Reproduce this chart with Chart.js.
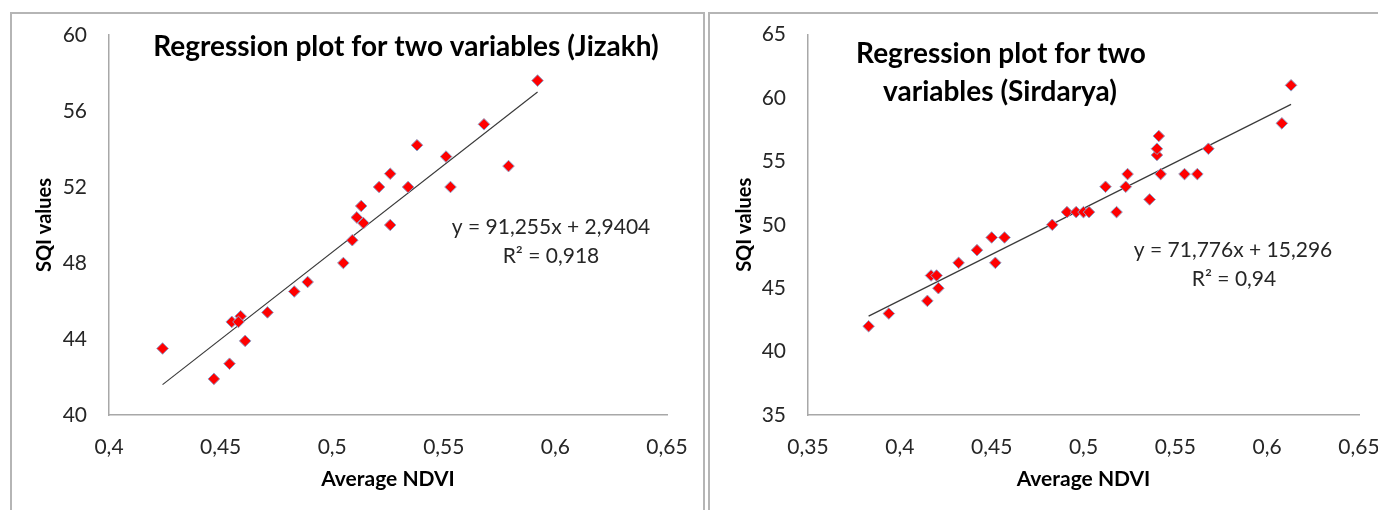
<!DOCTYPE html>
<html>
<head>
<meta charset="utf-8">
<script src="https://cdn.jsdelivr.net/npm/chart.js@4.4.1/dist/chart.umd.min.js"></script>
<style>
  body { margin: 0; background: #fff; width: 1378px; height: 510px; overflow: hidden; position: relative; }
  .panel { position: absolute; border: 2px solid #b5b5b5; border-bottom: none; box-sizing: border-box; }
  #p1 { left: 10px; top: 12px; width: 695px; height: 510px; }
  #p2 { left: 708px; top: 12px; width: 680px; height: 510px; }
  canvas { position: absolute; top: 0; }
  #c1 { left: 0; }
  #c2 { left: 706px; }
</style>
</head>
<body>
<div class="panel" id="p1"></div>
<div class="panel" id="p2"></div>
<canvas id="c1" width="760" height="510"></canvas>
<canvas id="c2" width="740" height="510"></canvas>
<script>
// Jizakh
const jizakhNdvi = [0.424, 0.447, 0.454, 0.455, 0.459, 0.458, 0.461, 0.471, 0.483, 0.489,
  0.505, 0.509, 0.511, 0.513, 0.514, 0.526, 0.521, 0.526, 0.534, 0.538,
  0.551, 0.553, 0.568, 0.579, 0.592];
const jizakhSqi = [43.5, 41.9, 42.7, 44.9, 45.2, 44.9, 43.9, 45.4, 46.5, 47.0,
  48.0, 49.2, 50.4, 51.0, 50.1, 50.0, 52.0, 52.7, 52.0, 54.2,
  53.6, 52.0, 55.3, 53.1, 57.6];
const jizakhTrendX = [0.424, 0.592];
const jizakhTrendY = [41.6, 57.0];

// Sirdarya
const sirdaryaNdvi = [0.383, 0.394, 0.415, 0.417, 0.420, 0.421, 0.432, 0.442, 0.450, 0.452,
  0.457, 0.483, 0.491, 0.496, 0.500, 0.503, 0.512, 0.518, 0.523, 0.524,
  0.536, 0.540, 0.540, 0.541, 0.542, 0.555, 0.562, 0.568, 0.608, 0.613];
const sirdaryaSqi = [42, 43, 44, 46, 46, 45, 47, 48, 49, 47,
  49, 50, 51, 51, 51, 51, 53, 51, 53, 54,
  52, 55.5, 56, 57, 54, 54, 54, 56, 58, 61];
const sirdaryaTrendX = [0.383, 0.613];
const sirdaryaTrendY = [42.8, 59.5];

const jizakhXTicks = [0.4, 0.65, 0.05];
const jizakhYTicks = [40, 60, 4];
const sirdaryaXTicks = [0.35, 0.65, 0.05];
const sirdaryaYTicks = [35, 65, 5];

Chart.defaults.font.family = 'Lato, "Open Sans", sans-serif';

const fmt = v => String(Math.round(v * 100) / 100).replace('.', ',');

// free text boxes (titles, equations), offsets from the plot area's top-left
const textBoxes = {
  id: 'textBoxes',
  afterDraw(chart, args, opts) {
    const { ctx, chartArea } = chart;
    ctx.save();
    ctx.textAlign = 'center';
    ctx.textBaseline = 'middle';
    opts.items.forEach(t => {
      ctx.font = t.font;
      ctx.fillStyle = t.color;
      ctx.fillText(t.text, chartArea.left + t.dx, chartArea.top + t.dy);
    });
    ctx.restore();
  }
};

function makeChart(id, xs, ys, tx, ty, xt, yt, yAxisWidth, padRight, padTop, yTitlePad, texts) {
  const axisColor = '#a8a8a8';
  const tickColor = '#262626';
  return new Chart(document.getElementById(id), {
    type: 'scatter',
    data: {
      datasets: [
        {
          data: xs.map((x, i) => ({ x, y: ys[i] })),
          backgroundColor: '#ff0000',
          borderColor: '#8ea0c8',
          borderWidth: 1,
          pointStyle: 'rectRot',
          pointRadius: 5.8,
          order: 1
        },
        {
          type: 'line',
          data: tx.map((x, i) => ({ x, y: ty[i] })),
          borderColor: '#3a3a3a',
          borderWidth: 1.2,
          pointRadius: 0,
          fill: false,
          order: 2
        }
      ]
    },
    options: {
      responsive: false,
      animation: false,
      events: [],
      layout: { autoPadding: false, padding: { left: 0, top: padTop, right: padRight, bottom: 0 } },
      plugins: {
        legend: { display: false },
        tooltip: { enabled: false },
        textBoxes: { items: texts }
      },
      scales: {
        x: {
          type: 'linear',
          min: xt[0], max: xt[1],
          ticks: { stepSize: xt[2], padding: 20, color: tickColor, font: { size: 21 }, callback: fmt },
          grid: { display: false, drawTicks: false },
          border: { display: true, color: axisColor, width: 1.5 },
          title: { display: true, text: 'Average NDVI', color: '#000', font: { size: 21, weight: 'bold' }, padding: { top: 0, bottom: 18 } },
          afterFit: s => { s.height = 95; }
        },
        y: {
          min: yt[0], max: yt[1],
          ticks: { stepSize: yt[2], padding: 22, color: tickColor, font: { size: 21 }, callback: fmt },
          grid: { display: false, drawTicks: false },
          border: { display: true, color: axisColor, width: 1.5 },
          title: { display: true, text: 'SQI values', color: '#000', font: { size: 20, weight: 'bold' }, padding: { top: yTitlePad, bottom: 0 } },
          afterFit: s => { s.width = yAxisWidth; }
        }
      }
    },
    plugins: [textBoxes]
  });
}

const titleFont = 'bold 28px Lato';
const eqFont = '21px Lato';

// plot area: left 109..667, right 808..1359 (page px)
makeChart('c1', jizakhNdvi, jizakhSqi, jizakhTrendX, jizakhTrendY, jizakhXTicks, jizakhYTicks,
  109, 760 - 667, 35, 33, [
    { text: 'Regression plot for two variables (Jizakh)', dx: 297, dy: 12, font: titleFont, color: '#000' },
    { text: 'y = 91,255x + 2,9404', dx: 442, dy: 192, font: eqFont, color: '#262626' },
    { text: 'R² = 0,918', dx: 442, dy: 221, font: eqFont, color: '#262626' }
  ]);

makeChart('c2', sirdaryaNdvi, sirdaryaSqi, sirdaryaTrendX, sirdaryaTrendY, sirdaryaXTicks, sirdaryaYTicks,
  102, 740 - 653, 34, 27, [
    { text: 'Regression plot for two', dx: 193, dy: 19, font: titleFont, color: '#000' },
    { text: 'variables (Sirdarya)', dx: 192, dy: 57, font: titleFont, color: '#000' },
    { text: 'y = 71,776x + 15,296', dx: 425, dy: 216, font: eqFont, color: '#262626' },
    { text: 'R² = 0,94', dx: 426, dy: 245, font: eqFont, color: '#262626' }
  ]);
</script>
</body>
</html>
